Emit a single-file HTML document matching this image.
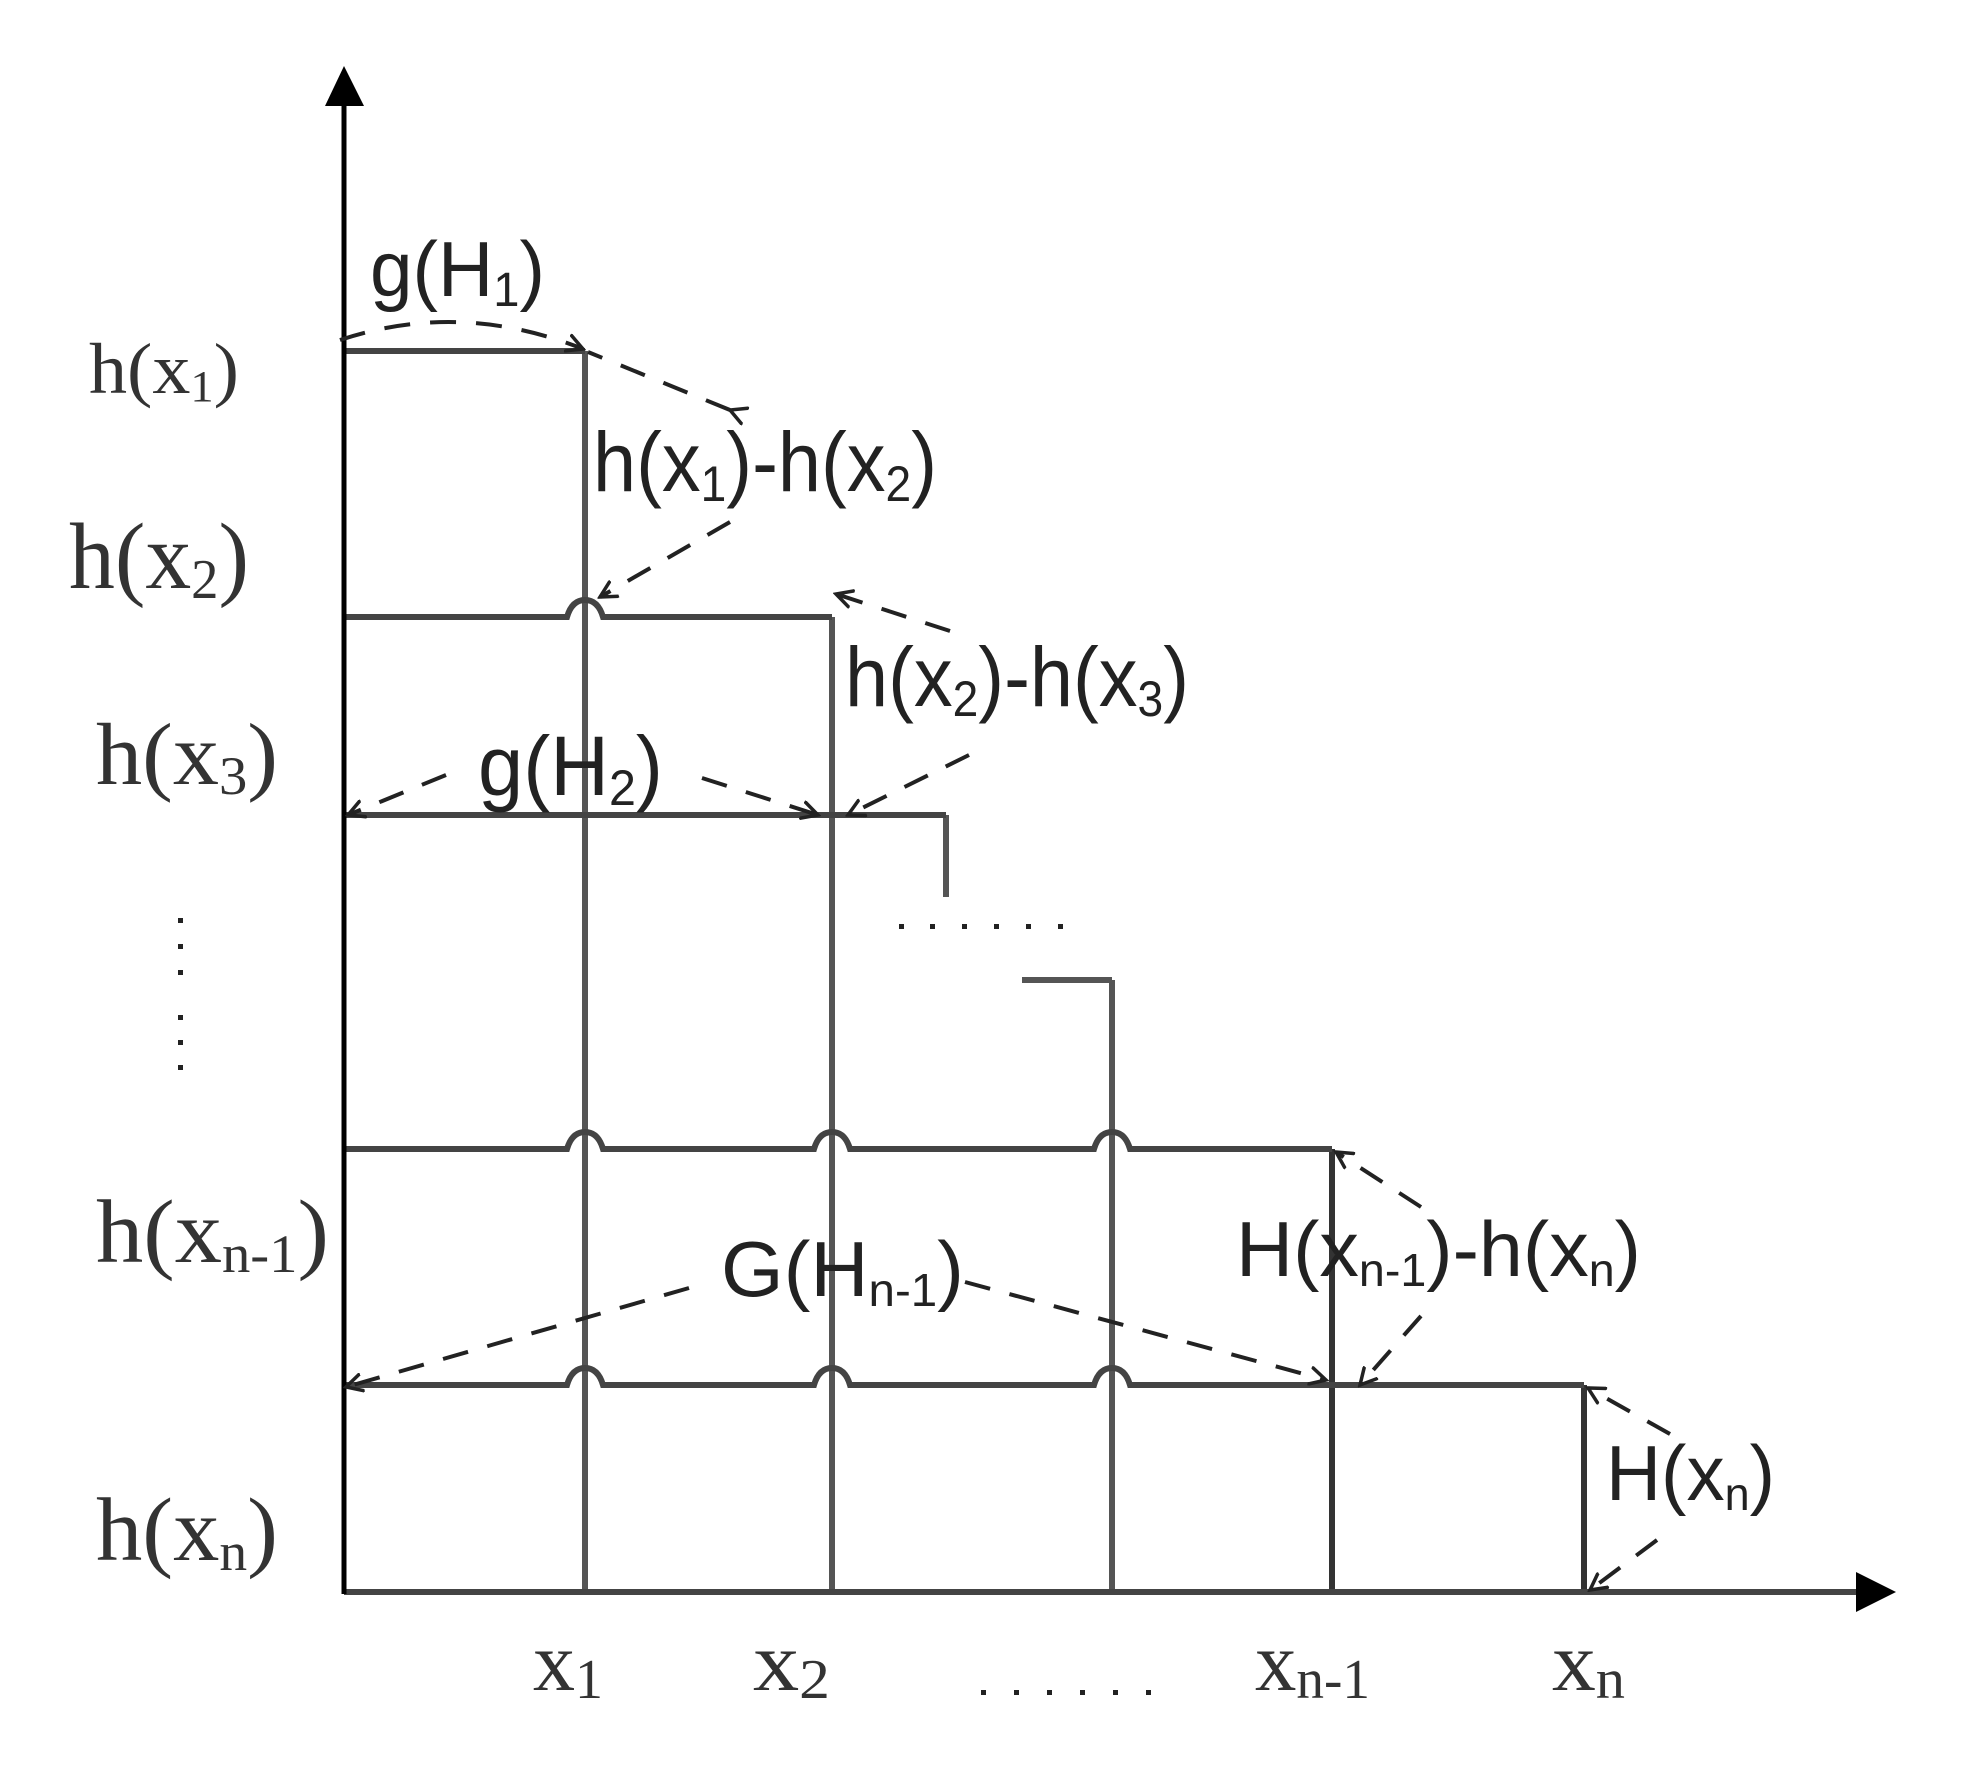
<!DOCTYPE html>
<html><head><meta charset="utf-8"><style>
html,body{margin:0;padding:0;background:#fff;}
svg{display:block;}
.s{font-family:"Liberation Sans",Arial,sans-serif;fill:#222;}
.r{font-family:"Liberation Serif","Times New Roman",serif;fill:#333;}
</style></head><body>
<svg width="1965" height="1779" viewBox="0 0 1965 1779" xmlns="http://www.w3.org/2000/svg">
<defs>
<marker id="a" markerWidth="20" markerHeight="20" refX="17" refY="10" orient="auto" markerUnits="userSpaceOnUse">
<path d="M0,1 L17,10 L0,19" fill="none" stroke="#222" stroke-width="3.5"/>
</marker>
</defs>
<g fill="none" stroke-linecap="butt">
<g stroke="#555" stroke-width="6">
<line x1="585" y1="351" x2="585" y2="1592"/>
<line x1="832" y1="617" x2="832" y2="1592"/>
<line x1="1112" y1="980" x2="1112" y2="1592"/>
<line x1="946" y1="815" x2="946" y2="897"/>
<line x1="1022" y1="980" x2="1112" y2="980"/>
</g>
<g stroke="#333" stroke-width="6">
<line x1="1332" y1="1149" x2="1332" y2="1592"/>
<line x1="1584" y1="1385" x2="1584" y2="1592"/>
</g>
<g stroke="#444" stroke-width="6">
<line x1="344" y1="351" x2="585" y2="351"/>
<path d="M344 617 L567 617 Q572 600 585 600 Q598 600 603 617 L832 617"/>
<path d="M344 815 L832 815 L946 815"/>
<path d="M344 1149 L567 1149 Q572 1132 585 1132 Q598 1132 603 1149 L814 1149 Q819 1132 832 1132 Q845 1132 850 1149 L1094 1149 Q1099 1132 1112 1132 Q1125 1132 1130 1149 L1332 1149"/>
<path d="M344 1385 L567 1385 Q572 1368 585 1368 Q598 1368 603 1385 L814 1385 Q819 1368 832 1368 Q845 1368 850 1385 L1094 1385 Q1099 1368 1112 1368 Q1125 1368 1130 1385 L1584 1385"/>
<line x1="344" y1="1592" x2="1860" y2="1592"/>
</g>
<line x1="344" y1="1594" x2="344" y2="100" stroke="#000" stroke-width="5"/>
<path d="M325 106 L344 66 L364 106 Z" fill="#000"/>
<path d="M1856 1572 L1896 1592 L1856 1612 Z" fill="#000"/>
<g fill="#222" stroke="none">
<rect x="178" y="918" width="5" height="5"/><rect x="178" y="944" width="5" height="5"/><rect x="178" y="970" width="5" height="5"/>
<rect x="178" y="1015" width="5" height="5"/><rect x="178" y="1040" width="5" height="5"/><rect x="178" y="1065" width="5" height="5"/>
<rect x="899" y="924" width="5" height="5"/><rect x="930" y="924" width="5" height="5"/><rect x="962" y="924" width="5" height="5"/><rect x="994" y="924" width="5" height="5"/><rect x="1026" y="924" width="5" height="5"/><rect x="1058" y="924" width="5" height="5"/>
<rect x="981" y="1690" width="5" height="5"/><rect x="1014" y="1690" width="5" height="5"/><rect x="1047" y="1690" width="5" height="5"/><rect x="1080" y="1690" width="5" height="5"/><rect x="1113" y="1690" width="5" height="5"/><rect x="1146" y="1690" width="5" height="5"/>
</g>
<g stroke="#222" stroke-width="4" stroke-dasharray="26 20">
<path d="M340 340 Q460 300 583 349" marker-end="url(#a)"/>
<path d="M730 410 L588 352" marker-start="url(#a)"/>
<path d="M730 522 L600 597" marker-end="url(#a)"/>
<path d="M950 631 L836 594" marker-end="url(#a)"/>
<path d="M969 755 L848 815" marker-end="url(#a)"/>
<path d="M446 775 L348 815" marker-end="url(#a)"/>
<path d="M702 778 L818 815" marker-end="url(#a)"/>
<path d="M689 1288 L346 1387" marker-end="url(#a)"/>
<path d="M965 1282 L1326 1380" marker-end="url(#a)"/>
<path d="M1421 1207 L1336 1152" marker-end="url(#a)"/>
<path d="M1421 1316 L1360 1385" marker-end="url(#a)"/>
<path d="M1670 1434 L1588 1388" marker-end="url(#a)"/>
<path d="M1657 1540 L1590 1590" marker-end="url(#a)"/>
</g>
</g>
<text class="s" x="370" y="296" font-size="78" textLength="175" lengthAdjust="spacingAndGlyphs">g(H<tspan font-size="48" dy="10">1</tspan><tspan dy="-10">)</tspan></text>
<text class="s" x="593" y="491" font-size="84" textLength="344" lengthAdjust="spacingAndGlyphs">h(x<tspan font-size="50" dy="10">1</tspan><tspan dy="-10">)-h(x</tspan><tspan font-size="50" dy="10">2</tspan><tspan dy="-10">)</tspan></text>
<text class="s" x="845" y="706" font-size="84" textLength="344" lengthAdjust="spacingAndGlyphs">h(x<tspan font-size="50" dy="10">2</tspan><tspan dy="-10">)-h(x</tspan><tspan font-size="50" dy="10">3</tspan><tspan dy="-10">)</tspan></text>
<text class="s" x="478" y="795" font-size="84" textLength="185" lengthAdjust="spacingAndGlyphs">g(H<tspan font-size="50" dy="10">2</tspan><tspan dy="-10">)</tspan></text>
<text class="s" x="721" y="1296" font-size="78" textLength="243" lengthAdjust="spacingAndGlyphs">G(H<tspan font-size="46" dy="10">n-1</tspan><tspan dy="-10">)</tspan></text>
<text class="s" x="1236" y="1276" font-size="78" textLength="405" lengthAdjust="spacingAndGlyphs">H(x<tspan font-size="46" dy="10">n-1</tspan><tspan dy="-10">)-h(x</tspan><tspan font-size="46" dy="10">n</tspan><tspan dy="-10">)</tspan></text>
<text class="s" x="1606" y="1500" font-size="78" textLength="169" lengthAdjust="spacingAndGlyphs">H(x<tspan font-size="46" dy="10">n</tspan><tspan dy="-10">)</tspan></text>
<text class="r" x="89" y="393" font-size="72" textLength="150" lengthAdjust="spacingAndGlyphs">h(x<tspan font-size="44" dy="8">1</tspan><tspan dy="-8">)</tspan></text>
<text class="r" x="69" y="588" font-size="94" textLength="180" lengthAdjust="spacingAndGlyphs">h(x<tspan font-size="56" dy="10">2</tspan><tspan dy="-10">)</tspan></text>
<text class="r" x="96" y="784" font-size="88" textLength="182" lengthAdjust="spacingAndGlyphs">h(x<tspan font-size="54" dy="10">3</tspan><tspan dy="-10">)</tspan></text>
<text class="r" x="96" y="1262" font-size="90" textLength="233" lengthAdjust="spacingAndGlyphs">h(x<tspan font-size="54" dy="10">n-1</tspan><tspan dy="-10">)</tspan></text>
<text class="r" x="96" y="1560" font-size="90" textLength="182" lengthAdjust="spacingAndGlyphs">h(x<tspan font-size="54" dy="10">n</tspan><tspan dy="-10">)</tspan></text>
<text class="r" x="533" y="1690" font-size="84" textLength="70" lengthAdjust="spacingAndGlyphs">x<tspan font-size="56" dy="8">1</tspan></text>
<text class="r" x="753" y="1690" font-size="84" textLength="77" lengthAdjust="spacingAndGlyphs">x<tspan font-size="56" dy="8">2</tspan></text>
<text class="r" x="1255" y="1690" font-size="84" textLength="115" lengthAdjust="spacingAndGlyphs">x<tspan font-size="56" dy="8">n-1</tspan></text>
<text class="r" x="1552" y="1690" font-size="84" textLength="73" lengthAdjust="spacingAndGlyphs">x<tspan font-size="56" dy="8">n</tspan></text>
</svg>
</body></html>
